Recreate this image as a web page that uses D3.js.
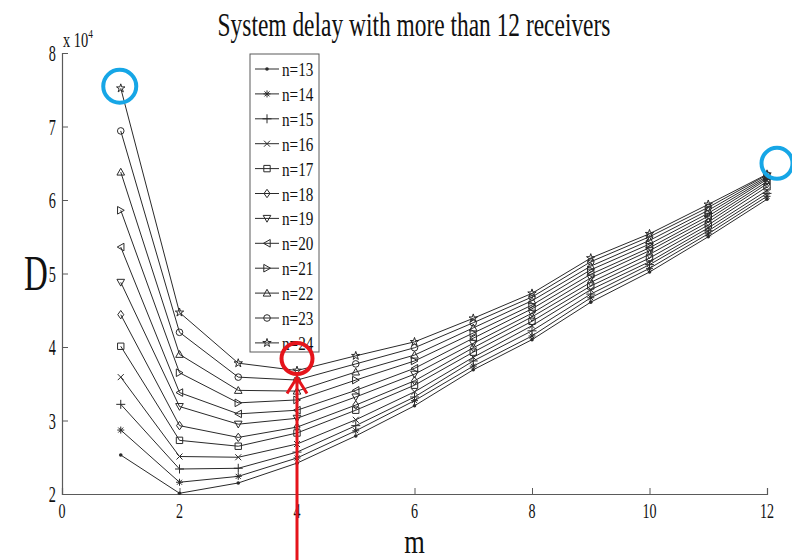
<!DOCTYPE html>
<html>
<head>
<meta charset="utf-8">
<script src="https://cdn.jsdelivr.net/npm/d3@7"></script>
<style>
  html, body { margin: 0; padding: 0; background: #fff; }
  svg { display: block; }
</style>
</head>
<body>
<svg id="chart" width="792" height="560"></svg>
<script>
// ---- data ----
const mValues = [1, 2, 3, 4, 5, 6, 7, 8, 9, 10, 11, 12];
const seriesNames = ["n=13", "n=14", "n=15", "n=16", "n=17", "n=18", "n=19", "n=20", "n=21", "n=22", "n=23", "n=24"];
const markerTypes = ["dot", "asterisk", "plus", "cross", "square", "diamond", "triDown", "triLeft", "triRight", "triUp", "circle", "star"];
const n13 = [25300, 20100, 21500, 24200, 27900, 32000, 36900, 41000, 46100, 50200, 55000, 60100];
const n14 = [28700, 21600, 22400, 24900, 28600, 32700, 37400, 41500, 46700, 50700, 55400, 60500];
const n15 = [32200, 23400, 23500, 25700, 29300, 33200, 38100, 42200, 47200, 51200, 55800, 60900];
const n16 = [35900, 25100, 25000, 26800, 30100, 33900, 38600, 42900, 47800, 51600, 56200, 61300];
const n17 = [40100, 27300, 26500, 28300, 31400, 34800, 39300, 43500, 48300, 52100, 56600, 61800];
const n18 = [44400, 29300, 27700, 29100, 32100, 35400, 39900, 44100, 48800, 52600, 57000, 62200];
const n19 = [48800, 31900, 29500, 30300, 33200, 36300, 40500, 44600, 49400, 53100, 57400, 62500];
const n20 = [53600, 33800, 30900, 31400, 34100, 37100, 41200, 45200, 49900, 53500, 57800, 62800];
const n21 = [58600, 36500, 32400, 32800, 35500, 38100, 41900, 45700, 50500, 54000, 58200, 63000];
const n22 = [63800, 39000, 34100, 34000, 36600, 38900, 42600, 46300, 51000, 54500, 58600, 63200];
const n23 = [69400, 42000, 35900, 35500, 37700, 39900, 43300, 46800, 51600, 55000, 59000, 63400];
const n24 = [75200, 44700, 37800, 36800, 38800, 40700, 43900, 47300, 52100, 55400, 59400, 63500];
const seriesValues = [n13, n14, n15, n16, n17, n18, n19, n20, n21, n22, n23, n24];
const xTicks = [0, 2, 4, 6, 8, 10, 12];
const yTicks = [20000, 30000, 40000, 50000, 60000, 70000, 80000];
const titleText = "System delay with more than 12 receivers";
const xLabel = "m";
const yLabel = "D";

// ---- layout ----
const svg = d3.select("#chart");
const plotL = 62, plotR = 767, plotT = 53, plotB = 494;
const x = d3.scaleLinear().domain([0, 12]).range([plotL, plotR]);
const y = d3.scaleLinear().domain([20000, 80000]).range([plotB, plotT]);
const FONT = "'Liberation Serif', 'Times New Roman', serif";
const INK = "#2a2a2a";
const AXIS = "#5a5a5a";

function sText(g, tx, ty, str, size, sx, anchor) {
  return g.append("text")
    .attr("transform", `translate(${tx},${ty}) scale(${sx},1)`)
    .attr("text-anchor", anchor || "middle")
    .attr("font-family", FONT)
    .attr("font-size", size)
    .attr("fill", "#111")
    .text(str);
}

// ---- axes ----
const xAxis = d3.axisBottom(x).tickValues(xTicks).tickSize(-6).tickFormat("");
const yAxis = d3.axisLeft(y).tickValues(yTicks).tickSize(-6).tickFormat("");
const gx = svg.append("g").attr("transform", `translate(0,${plotB})`).call(xAxis);
const gy = svg.append("g").attr("transform", `translate(${plotL},0)`).call(yAxis);
[gx, gy].forEach(g => {
  g.selectAll("path.domain").attr("stroke", AXIS).attr("stroke-width", 1.2);
  g.selectAll(".tick line").attr("stroke", AXIS).attr("stroke-width", 1);
});
// tick labels
xTicks.forEach(t => sText(svg, x(t), plotB + 24, String(t), 22, 0.64, "middle"));
yTicks.forEach(t => sText(svg, plotL - 6, y(t) + 8, String(t / 10000), 23, 0.62, "end"));
// exponent
const ex = svg.append("text")
  .attr("transform", `translate(${plotL + 1},${plotT - 6}) scale(0.72,1)`)
  .attr("font-family", FONT).attr("font-size", 20).attr("fill", "#111");
ex.append("tspan").text("x 10");
ex.append("tspan").attr("dy", -9).attr("font-size", 13).text("4");

// title & labels
sText(svg, 414, 36, titleText, 33, 0.71, "middle");
sText(svg, x(6), 553, xLabel, 33, 0.8, "middle");
sText(svg, 36, 290, yLabel, 50, 0.66, "middle");

// ---- markers ----
const markerPaths = {
  asterisk: "M-3.5,0H3.5M0,-3.5V3.5M-2.5,-2.5L2.5,2.5M-2.5,2.5L2.5,-2.5",
  plus: "M-4.5,0H4.5M0,-4.5V4.5",
  cross: "M-3,-3L3,3M-3,3L3,-3",
  square: "M-3.2,-3.2H3.2V3.2H-3.2Z",
  diamond: "M0,-4.2L3,0L0,4.2L-3,0Z",
  triDown: "M-3.8,-3L3.8,-3L0,3.8Z",
  triLeft: "M-3.5,0L3.2,-3.8L3.2,3.8Z",
  triRight: "M3.5,0L-3.2,-3.8L-3.2,3.8Z",
  triUp: "M-3.8,3L3.8,3L0,-3.8Z",
  star: d3.symbol(d3.symbolStar, 22)()
};
function drawMarker(g, type, cx, cy) {
  if (type === "dot") {
    g.append("circle").attr("cx", cx).attr("cy", cy).attr("r", 1.8).attr("fill", INK);
  } else if (type === "circle") {
    g.append("circle").attr("cx", cx).attr("cy", cy).attr("r", 3.3)
      .attr("fill", "none").attr("stroke", INK).attr("stroke-width", 1);
  } else {
    g.append("path").attr("d", markerPaths[type]).attr("transform", `translate(${cx},${cy})`)
      .attr("fill", "none").attr("stroke", INK).attr("stroke-width", 1);
  }
}

// ---- series ----
const line = d3.line().x((d, i) => x(mValues[i])).y(d => y(d));
const gSeries = svg.append("g");
seriesValues.forEach((vals, si) => {
  const g = gSeries.append("g");
  g.append("path").attr("d", line(vals)).attr("fill", "none")
    .attr("stroke", INK).attr("stroke-width", 1);
  vals.forEach((v, i) => drawMarker(g, markerTypes[si], x(mValues[i]), y(v)));
});

// ---- legend ----
const lg = svg.append("g");
const lgX = 250, lgY = 54, lgW = 69, lgH = 298, rowH = 24.9;
lg.append("rect").attr("x", lgX).attr("y", lgY).attr("width", lgW).attr("height", lgH)
  .attr("fill", "#fff").attr("stroke", AXIS).attr("stroke-width", 1);
seriesNames.forEach((name, i) => {
  const cy = lgY + 15 + i * rowH;
  lg.append("line").attr("x1", lgX + 5).attr("x2", lgX + 29).attr("y1", cy).attr("y2", cy)
    .attr("stroke", INK).attr("stroke-width", 1);
  drawMarker(lg, markerTypes[i], lgX + 17, cy);
  sText(lg, lgX + 32, cy + 7, name, 19, 0.8, "start");
});

// ---- annotations (highlight marks) ----
const ann = svg.append("g");
const BLUE = "#16a6e6", RED = "#e5141b";
ann.append("circle").attr("cx", x(1) - 1).attr("cy", y(n24[0]) - 2).attr("r", 16.5)
  .attr("fill", "none").attr("stroke", BLUE).attr("stroke-width", 4);
ann.append("circle").attr("cx", x(12) + 10).attr("cy", y(n24[11]) - 11).attr("r", 15.5)
  .attr("fill", "none").attr("stroke", BLUE).attr("stroke-width", 4);
const rx = x(4), ry = y(n24[3]) - 12;
ann.append("circle").attr("cx", rx).attr("cy", ry).attr("r", 15.5)
  .attr("fill", "none").attr("stroke", RED).attr("stroke-width", 4);
const tipY = ry + 19;
ann.append("line").attr("x1", rx).attr("x2", rx).attr("y1", tipY).attr("y2", 560)
  .attr("stroke", RED).attr("stroke-width", 3);
ann.append("path").attr("d", `M${rx - 10},${tipY + 16}L${rx},${tipY}L${rx + 10},${tipY + 16}`)
  .attr("fill", "none").attr("stroke", RED).attr("stroke-width", 3);
</script>
</body>
</html>
